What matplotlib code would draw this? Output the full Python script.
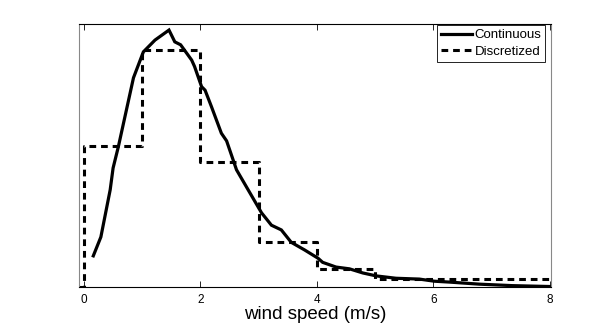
import numpy as np
from matplotlib import pyplot as plt

plt.rcParams['font.family'] = ['Liberation Sans', 'DejaVu Sans']

# continuous wind speed density
wind = [0.16, 0.29, 0.45, 0.50, 0.59, 0.85, 1.02, 1.22, 1.46, 1.56, 1.66, 1.85,
        1.90, 2.02, 2.08, 2.19, 2.36, 2.45, 2.62, 2.82, 3.05, 3.22, 3.39, 3.56,
        3.79, 4.02, 4.10, 4.33, 4.56, 4.79, 5.02, 5.36, 5.76, 6.02, 6.28, 6.79,
        7.36, 8.0]
dens = [0.053, 0.085, 0.165, 0.202, 0.238, 0.355, 0.399, 0.419, 0.436, 0.416,
        0.411, 0.385, 0.374, 0.340, 0.334, 0.306, 0.261, 0.248, 0.199, 0.165,
        0.126, 0.105, 0.097, 0.076, 0.063, 0.049, 0.042, 0.034, 0.031, 0.024,
        0.019, 0.015, 0.0136, 0.010, 0.0085, 0.005, 0.0025, 0.001]

# discretized bins (edges and heights)
edges = [-0.085, 0, 1, 2, 3, 4, 5, 6, 7, 8]
heights = [0, 0.239, 0.402, 0.212, 0.076, 0.030, 0.0133, 0.0133, 0.0133]

fig = plt.figure(figsize=(6.08, 3.27), dpi=100)
ax = fig.add_axes([0.130, 0.122, 0.776, 0.805])

ax.plot(wind, dens, '-', color='k', lw=2.3, label='Continuous', solid_joinstyle='miter')
ax.step(edges, heights + [heights[-1]], where='post', color='k', lw=2.2,
        dashes=(2.2, 1.6), label='Discretized')

ax.set_xlim(-0.085, 8.02)
ax.set_ylim(0, 0.4465)
ax.set_xticks([0, 2, 4, 6, 8])
ax.set_yticks([])
ax.tick_params(axis='x', direction='in', length=4, width=0.6, top=True,
               labelsize=8.5, pad=5)
for s in ['left', 'right']:
    ax.spines[s].set_color('#888888')
for s in ['top', 'bottom']:
    ax.spines[s].set_color('k')
for s in ax.spines.values():
    s.set_linewidth(0.8)

ax.set_xlabel('wind speed (m/s)', fontsize=13.5, labelpad=0)

leg = ax.legend(loc='upper right', bbox_to_anchor=(0.991, 1.0), fontsize=9.5,
                fancybox=False, edgecolor='k', framealpha=1, borderpad=0.3,
                handlelength=2.4, handletextpad=0.15, labelspacing=0.3,
                borderaxespad=0.1)
leg.get_frame().set_linewidth(0.6)

fig.savefig('out.png', dpi=100)
